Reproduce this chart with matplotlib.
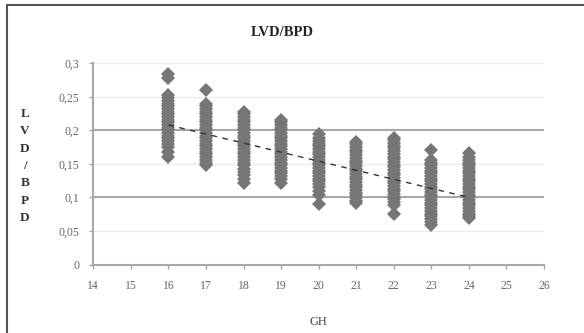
#! /usr/bin/env python

import matplotlib
matplotlib.use('Agg')
import matplotlib.pyplot as plt
from matplotlib.patches import Rectangle
from matplotlib.ticker import FuncFormatter

# LVD/BPD ratio values per gestational week (GH)
gh_16 = [0.284, 0.278, 0.253, 0.248, 0.244, 0.240, 0.236, 0.232, 0.228, 0.224, 0.220,
         0.216, 0.212, 0.208, 0.204, 0.200, 0.196, 0.192, 0.188, 0.184, 0.180, 0.175,
         0.168, 0.161]
gh_17 = [0.260, 0.240, 0.236, 0.232, 0.228, 0.224, 0.220, 0.216, 0.212, 0.208, 0.204,
         0.200, 0.196, 0.192, 0.188, 0.184, 0.180, 0.176, 0.172, 0.168, 0.164, 0.160,
         0.156, 0.152, 0.148]
gh_18 = [0.228, 0.224, 0.220, 0.216, 0.212, 0.208, 0.204, 0.200, 0.196, 0.192, 0.188,
         0.184, 0.180, 0.176, 0.172, 0.168, 0.164, 0.160, 0.156, 0.152, 0.148, 0.142,
         0.138, 0.133, 0.128, 0.122]
gh_19 = [0.216, 0.212, 0.208, 0.204, 0.200, 0.196, 0.192, 0.188, 0.184, 0.180, 0.176,
         0.172, 0.168, 0.164, 0.160, 0.156, 0.152, 0.148, 0.144, 0.140, 0.136, 0.132,
         0.127, 0.122]
gh_20 = [0.195, 0.189, 0.184, 0.180, 0.176, 0.172, 0.168, 0.164, 0.160, 0.156, 0.152,
         0.148, 0.144, 0.140, 0.136, 0.132, 0.128, 0.124, 0.120, 0.115, 0.110, 0.104,
         0.090]
gh_21 = [0.183, 0.179, 0.175, 0.171, 0.167, 0.163, 0.159, 0.155, 0.151, 0.147, 0.143,
         0.139, 0.135, 0.131, 0.127, 0.123, 0.119, 0.115, 0.111, 0.107, 0.103, 0.099,
         0.095, 0.092]
gh_22 = [0.189, 0.185, 0.181, 0.177, 0.173, 0.169, 0.165, 0.161, 0.157, 0.153, 0.149,
         0.145, 0.141, 0.137, 0.133, 0.129, 0.125, 0.121, 0.117, 0.113, 0.109, 0.105,
         0.101, 0.097, 0.093, 0.089, 0.075]
gh_23 = [0.171, 0.156, 0.152, 0.148, 0.144, 0.140, 0.136, 0.132, 0.128, 0.124, 0.120,
         0.116, 0.112, 0.108, 0.104, 0.100, 0.096, 0.092, 0.088, 0.084, 0.080, 0.076,
         0.072, 0.068, 0.064, 0.059]
gh_24 = [0.166, 0.160, 0.156, 0.152, 0.148, 0.144, 0.140, 0.136, 0.132, 0.128, 0.124,
         0.120, 0.116, 0.112, 0.108, 0.104, 0.100, 0.096, 0.092, 0.088, 0.084, 0.080,
         0.076, 0.072, 0.069]
weeks = [16, 17, 18, 19, 20, 21, 22, 23, 24]
columns = [gh_16, gh_17, gh_18, gh_19, gh_20, gh_21, gh_22, gh_23, gh_24]

# linear trend end points
trend_x = [16, 24]
trend_y = [0.208, 0.100]

x_ticks = list(range(14, 27))
y_ticks = [0, 0.05, 0.1, 0.15, 0.2, 0.25, 0.3]


def main():
    plt.rcParams['font.family'] = ['Liberation Serif', 'DejaVu Serif']
    fig = plt.figure(figsize=(5.84, 3.33), dpi=100)
    ax = fig.add_axes([0.1598, 0.2057, 0.7717, 0.6043])

    # outer chart frame
    fig.patches.append(Rectangle((6.5 / 584, -0.05), 1.1, (333 - 5) / 333 + 0.05,
                                 transform=fig.transFigure, fill=False,
                                 edgecolor='#555555', linewidth=1.5))

    # grid lines: light at every 0.05, darker at 0.1 and 0.2
    for y in [0.05, 0.15, 0.25, 0.3]:
        ax.axhline(y, color='#ececec', linewidth=1.0, zorder=0)
    for y in [0.1, 0.2]:
        ax.axhline(y, color='#a8a8a8', linewidth=1.5, zorder=0)

    for w, vals in zip(weeks, columns):
        ax.plot([w] * len(vals), vals, linestyle='none', marker='D', markersize=7,
                color='#767676', markeredgewidth=0, zorder=2)

    ax.plot(trend_x, trend_y, linestyle=(0, (4, 4)), color='#333333',
            linewidth=1.0, zorder=3)

    ax.set_xlim(14, 26)
    ax.set_ylim(0, 0.3)
    ax.set_xticks(x_ticks)
    ax.set_yticks(y_ticks)
    ax.yaxis.set_major_formatter(FuncFormatter(lambda v, p: ('%g' % v).replace('.', ',')))

    for s in ['top', 'right']:
        ax.spines[s].set_visible(False)
    for s in ['left', 'bottom']:
        ax.spines[s].set_color('#a8a8a8')
        ax.spines[s].set_linewidth(1.5)
    ax.tick_params(axis='both', colors='#a8a8a8', length=3, width=1.0,
                   labelsize=8.5, labelcolor='#666666')
    ax.tick_params(axis='x', pad=8)
    ax.tick_params(axis='y', pad=7)

    fig.text(282 / 584, 1 - 32 / 333, 'LVD/BPD', ha='center', va='center',
             fontsize=10.5, fontweight='bold', color='#222222')
    fig.text(318 / 584, 1 - 322 / 333, 'GH', ha='center', va='center',
             fontsize=9, color='#444444')
    fig.text(25 / 584, 1 - 166 / 333, '\n'.join('LVD/BPD'), ha='center', va='center',
             fontsize=9.5, fontweight='bold', color='#333333', linespacing=1.6)

    fig.savefig('out.png', dpi=100)


main()
